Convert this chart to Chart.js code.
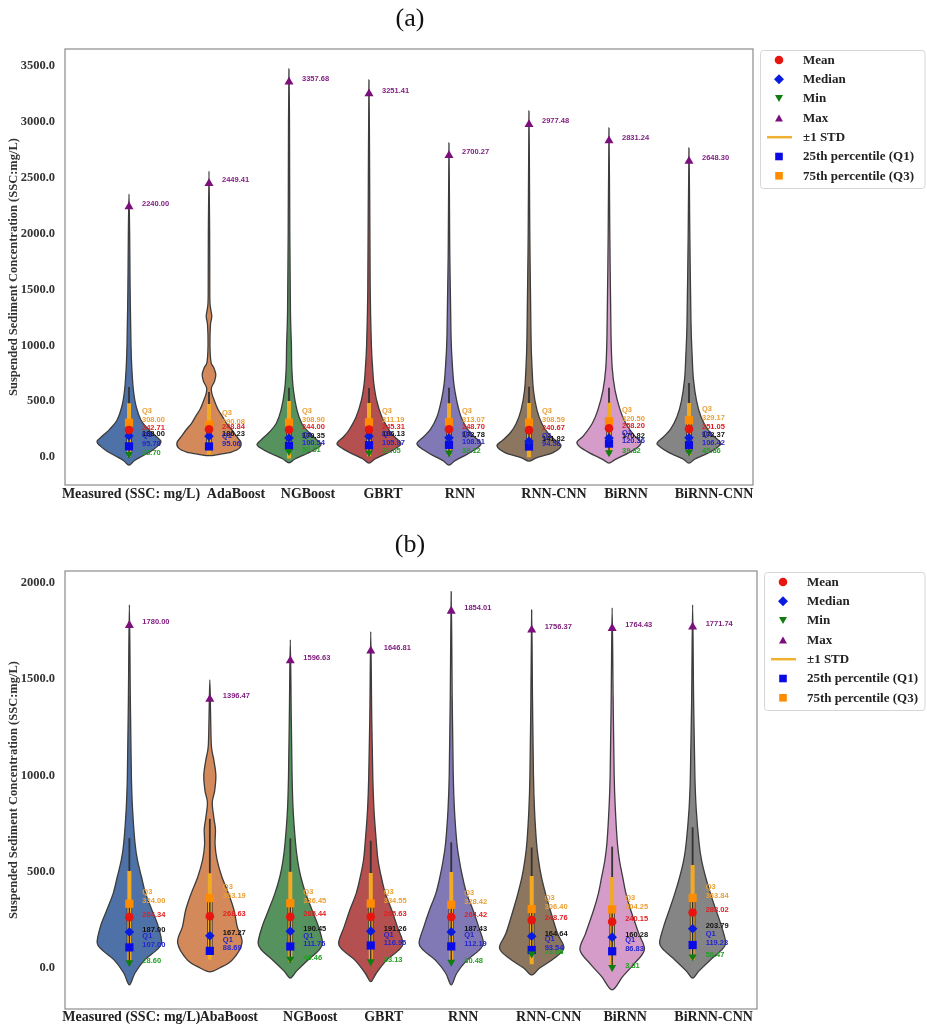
<!DOCTYPE html>
<html>
<head>
<meta charset="utf-8">
<script src="https://cdn.jsdelivr.net/npm/chart.js@4.4.0/dist/chart.umd.min.js"></script>
<style>
  html, body { margin: 0; padding: 0; background: #fff; }
  canvas { display: block; }
</style>
</head>
<body>
<canvas id="chartA" width="927" height="512"></canvas>
<canvas id="chartB" width="927" height="515"></canvas>
<script>
// ===== DATA =====
const modelsA = ['Measured (SSC: mg/L)', 'AdaBoost', 'NGBoost', 'GBRT', 'RNN', 'RNN-CNN', 'BiRNN', 'BiRNN-CNN'];
const modelsB = ['Measured (SSC: mg/L)', 'AbaBoost', 'NGBoost', 'GBRT', 'RNN', 'RNN-CNN', 'BiRNN', 'BiRNN-CNN'];
const ticksA = [0, 500, 1000, 1500, 2000, 2500, 3000, 3500];
const ticksB = [0, 500, 1000, 1500, 2000];

// panel (a)
const maxA    = [2240.00, 2449.41, 3357.68, 3251.41, 2700.27, 2977.48, 2831.24, 2648.30];
const q3A     = [308.00, 290.08, 308.90, 311.19, 313.07, 308.59, 320.50, 329.17];
const meanA   = [242.71, 248.84, 244.00, 245.31, 248.70, 240.67, 258.20, 251.05];
const medianA = [188.00, 186.23, 170.35, 186.13, 172.78, 141.82, 170.82, 172.37];
const q1A     = [95.78, 95.06, 100.54, 105.97, 108.91, 94.56, 120.36, 106.42];
const minA    = [25.70, null, 50.51, 39.05, 38.12, null, 39.82, 45.86];
const stdA    = [240, 225, 257, 238, 234, 243, 227, 232];

// panel (b)
const maxB    = [1780.00, 1396.47, 1596.63, 1646.81, 1854.01, 1756.37, 1764.43, 1771.74];
const q3B     = [334.00, 363.19, 336.45, 334.55, 328.42, 306.40, 304.25, 363.84];
const meanB   = [264.34, 268.63, 265.44, 265.63, 264.42, 248.76, 240.15, 288.02];
const medianB = [187.00, 167.27, 190.45, 191.26, 187.43, 164.64, 160.28, 203.79];
const q1B     = [107.00, 88.69, 111.76, 116.95, 112.19, 93.54, 86.83, 119.23];
const minB    = [28.60, null, 46.46, 33.13, 30.48, 73.68, 3.31, 58.47];
const stdB    = [240, 224, 234, 228, 234, 229, 233, 247];

// violin outlines: [SSC value, half width in category units], bottom tip -> top tip
const densityA = [
  [[-72,0],[-30,0.07],[10,0.17],[50,0.27],[100,0.36],[140,0.40],[190,0.33],[250,0.24],[330,0.15],[450,0.09],[600,0.055],[800,0.035],[1000,0.025],[1500,0.014],[2000,0.008],[2354,0]],
  [[12,0],[25,0.13],[45,0.28],[80,0.38],[130,0.40],[180,0.35],[240,0.29],[300,0.22],[360,0.17],[430,0.11],[500,0.07],[570,0.035],[620,0.03],[680,0.07],[740,0.085],[800,0.06],[850,0.025],[1000,0.012],[1180,0.018],[1260,0.035],[1340,0.018],[1450,0.01],[2000,0.008],[2560,0]],
  [[-51,0],[-15,0.08],[30,0.22],[70,0.33],[110,0.40],[160,0.34],[220,0.25],[300,0.16],[420,0.10],[600,0.055],[800,0.035],[1000,0.03],[1300,0.018],[2000,0.01],[3000,0.006],[3474,0]],
  [[-54,0],[-15,0.08],[40,0.24],[90,0.36],[125,0.40],[180,0.32],[242,0.25],[360,0.16],[510,0.095],[660,0.06],[800,0.045],[1000,0.03],[1500,0.015],[2500,0.008],[3375,0]],
  [[-72,0],[-30,0.08],[30,0.24],[85,0.36],[125,0.40],[180,0.32],[250,0.23],[360,0.15],[510,0.095],[660,0.06],[850,0.04],[1100,0.025],[1800,0.01],[2811,0]],
  [[-36,0],[-5,0.1],[40,0.3],[100,0.40],[150,0.33],[220,0.23],[300,0.16],[420,0.10],[600,0.055],[850,0.035],[1100,0.025],[2000,0.01],[3098,0]],
  [[-54,0],[-20,0.08],[40,0.25],[95,0.37],[134,0.40],[190,0.32],[300,0.21],[420,0.14],[600,0.075],[800,0.04],[1100,0.025],[2000,0.01],[2945,0]],
  [[-54,0],[-15,0.08],[40,0.25],[90,0.36],[125,0.40],[180,0.32],[250,0.23],[360,0.15],[500,0.095],[700,0.055],[900,0.04],[1200,0.025],[2000,0.01],[2766,0]]
];
const densityB = [
  [[-88,0],[-26,0.07],[42,0.19],[90,0.33],[130,0.40],[215,0.36],[301,0.28],[389,0.20],[474,0.15],[561,0.10],[649,0.07],[822,0.04],[994,0.025],[1400,0.012],[1886,0]],
  [[-20,0],[0,0.12],[42,0.28],[130,0.40],[215,0.34],[301,0.30],[389,0.23],[473,0.15],[561,0.09],[640,0.065],[720,0.07],[780,0.05],[860,0.03],[920,0.06],[1000,0.075],[1080,0.05],[1150,0.02],[1300,0.01],[1496,0]],
  [[-52,0],[-15,0.08],[42,0.22],[90,0.35],[130,0.40],[215,0.35],[301,0.27],[389,0.19],[474,0.13],[561,0.09],[649,0.065],[822,0.035],[1000,0.022],[1300,0.012],[1704,0]],
  [[-71,0],[-26,0.07],[42,0.2],[90,0.34],[130,0.40],[215,0.33],[301,0.26],[389,0.18],[474,0.13],[561,0.09],[649,0.07],[822,0.04],[1000,0.025],[1300,0.012],[1747,0]],
  [[-88,0],[-26,0.07],[42,0.2],[90,0.34],[130,0.40],[215,0.34],[301,0.27],[389,0.19],[474,0.14],[561,0.1],[649,0.07],[822,0.04],[1000,0.025],[1400,0.012],[1955,0]],
  [[-36,0],[0,0.1],[50,0.28],[104,0.40],[180,0.32],[301,0.23],[389,0.17],[474,0.12],[561,0.085],[649,0.06],[822,0.035],[1000,0.022],[1400,0.01],[1860,0]],
  [[-114,0],[-45,0.13],[20,0.27],[94,0.40],[180,0.33],[301,0.23],[389,0.17],[474,0.13],[561,0.09],[649,0.065],[822,0.04],[1000,0.025],[1400,0.012],[1870,0]],
  [[-52,0],[-15,0.08],[42,0.22],[90,0.35],[130,0.41],[215,0.36],[301,0.29],[389,0.22],[474,0.16],[561,0.11],[649,0.08],[822,0.045],[1000,0.028],[1400,0.012],[1886,0]]
];

// ===== STYLE =====
const violinColors = ['#4e72a8', '#d4895a', '#56925e', '#b4504f', '#8178b6', '#8c7660', '#d59bc9', '#858585'];
const SERIF = '"Liberation Serif", "Times New Roman", serif';
const SANS = '"Liberation Sans", Arial, sans-serif';
const C = {
  mean: '#e8150f', median: '#0a1be0', min: '#0f7d0f', max: '#7b0f7b',
  q1: '#0a0ae6', q3: '#ff8c00', std: '#f2aa22',
  tQ3: '#eba035', tMean: '#e02020', tMedian: '#111111', tQ1: '#2525cc', tMin: '#22a022', tMax: '#801f80'
};

const legendItems = [
  { text: 'Mean', style: 'circle', color: C.mean },
  { text: 'Median', style: 'diamond', color: C.median },
  { text: 'Min', style: 'down', color: C.min },
  { text: 'Max', style: 'up', color: C.max },
  { text: '\u00b11 STD', style: 'line', color: '#f0b030' },
  { text: '25th percentile (Q1)', style: 'square', color: C.q1 },
  { text: '75th percentile (Q3)', style: 'square', color: C.q3 }
];

function smoothClosed(ctx, pts) {
  const n = pts.length;
  ctx.moveTo(pts[0][0], pts[0][1]);
  for (let i = 0; i < n; i++) {
    const p0 = pts[(i - 1 + n) % n], p1 = pts[i], p2 = pts[(i + 1) % n], p3 = pts[(i + 2) % n];
    ctx.bezierCurveTo(
      p1[0] + (p2[0] - p0[0]) / 6, p1[1] + (p2[1] - p0[1]) / 6,
      p2[0] - (p3[0] - p1[0]) / 6, p2[1] - (p3[1] - p1[1]) / 6,
      p2[0], p2[1]);
  }
  ctx.closePath();
}

function legendMark(ctx, item, x, y) {
  ctx.fillStyle = item.color;
  ctx.strokeStyle = item.color;
  ctx.beginPath();
  if (item.style === 'circle') ctx.arc(x, y, 4.3, 0, Math.PI * 2);
  else if (item.style === 'diamond') { ctx.moveTo(x - 5, y); ctx.lineTo(x, y - 5); ctx.lineTo(x + 5, y); ctx.lineTo(x, y + 5); }
  else if (item.style === 'down') { ctx.moveTo(x - 4, y - 3.5); ctx.lineTo(x + 4, y - 3.5); ctx.lineTo(x, y + 3.5); }
  else if (item.style === 'up') { ctx.moveTo(x - 4, y + 3.5); ctx.lineTo(x + 4, y + 3.5); ctx.lineTo(x, y - 3.5); }
  else if (item.style === 'square') ctx.rect(x - 3.8, y - 3.8, 7.6, 7.6);
  if (item.style === 'line') {
    ctx.lineWidth = 2.5;
    ctx.moveTo(x - 12, y); ctx.lineTo(x + 13, y); ctx.stroke();
  } else {
    ctx.closePath(); ctx.fill();
  }
}

function buildPanel(id, p) {
  const n = p.names.length;
  const pts = arr => arr.map((v, i) => v == null ? null : { x: i, y: v }).filter(Boolean);
  const stdSeg = [], innerSeg = [];
  for (let i = 0; i < n; i++) {
    stdSeg.push({ x: i, y: p.mean[i] - p.std[i] }, { x: i, y: p.mean[i] + p.std[i] }, { x: i, y: null });
    innerSeg.push({ x: i, y: p.min[i] != null ? p.min[i] : p.q1[i] }, { x: i, y: p.q3[i] }, { x: i, y: null });
  }

  const violinPlugin = {
    id: 'violins' + id,
    beforeDatasetsDraw(chart) {
      const { ctx, chartArea: a, scales: { x, y } } = chart;
      ctx.save();
      ctx.beginPath(); ctx.rect(a.left, a.top, a.right - a.left, a.bottom - a.top); ctx.clip();
      p.density.forEach((knots, i) => {
        const right = knots.map(([v, w]) => [x.getPixelForValue(i + w), y.getPixelForValue(v)]);
        const left = knots.slice().reverse().map(([v, w]) => [x.getPixelForValue(i - w), y.getPixelForValue(v)]);
        const outline = right.concat(left.slice(1, -1));
        ctx.beginPath();
        smoothClosed(ctx, outline);
        ctx.fillStyle = violinColors[i];
        ctx.fill();
        ctx.lineWidth = 1.3;
        ctx.strokeStyle = '#3c3c3c';
        ctx.stroke();
        // inner box (whisker + IQR)
        const iqr = p.q3[i] - p.q1[i];
        const lo = p.min[i] != null ? Math.max(p.min[i], p.q1[i] - 1.5 * iqr) : p.q1[i];
        const hi = Math.min(p.max[i], p.q3[i] + 1.5 * iqr);
        const xc = x.getPixelForValue(i);
        ctx.strokeStyle = '#333';
        ctx.lineWidth = 1.8;
        ctx.beginPath(); ctx.moveTo(xc, y.getPixelForValue(lo)); ctx.lineTo(xc, y.getPixelForValue(hi)); ctx.stroke();
        ctx.lineWidth = 5.5;
        ctx.beginPath(); ctx.moveTo(xc, y.getPixelForValue(p.q1[i])); ctx.lineTo(xc, y.getPixelForValue(p.q3[i])); ctx.stroke();
      });
      ctx.restore();
    },
    afterDatasetsDraw(chart) {
      const { ctx, scales: { x, y } } = chart;
      ctx.save();
      ctx.font = 'bold 7.5px ' + SANS;
      ctx.textAlign = 'left';
      ctx.textBaseline = 'middle';
      const put = (txt, color, xp, yp) => { ctx.fillStyle = color; ctx.fillText(txt, xp, yp); };
      for (let i = 0; i < n; i++) {
        const xp = x.getPixelForValue(i) + 13;
        if (p.min[i] != null) put(p.min[i].toFixed(2), C.tMin, xp, y.getPixelForValue(p.min[i]) - 1.5);
        put(p.max[i].toFixed(2), C.tMax, xp, y.getPixelForValue(p.max[i]) - 3);
        put('Q3', C.tQ3, xp, y.getPixelForValue(p.q3[i]) - 11.5);
        put(p.q3[i].toFixed(2), C.tQ3, xp, y.getPixelForValue(p.q3[i]) - 2.5);
        put(p.mean[i].toFixed(2), C.tMean, xp, y.getPixelForValue(p.mean[i]) - 2.5);
        put(p.median[i].toFixed(2), C.tMedian, xp, y.getPixelForValue(p.median[i]) - 2.5);
        put('Q1', C.tQ1, xp, y.getPixelForValue(p.q1[i]) - 11);
        put(p.q1[i].toFixed(2), C.tQ1, xp, y.getPixelForValue(p.q1[i]) - 2.5);
      }
      ctx.restore();
    },
    afterDraw(chart) {
      const { ctx, chartArea: a, scales: { x } } = chart;
      ctx.save();
      // frame
      ctx.strokeStyle = '#8c8c8c';
      ctx.lineWidth = 1.2;
      ctx.strokeRect(a.left, a.top, a.right - a.left, a.bottom - a.top);
      // panel title
      ctx.fillStyle = '#111';
      ctx.font = '26px ' + SERIF;
      ctx.textAlign = 'center';
      ctx.textBaseline = 'middle';
      ctx.fillText(p.title, 410, p.titleY);
      // category labels
      ctx.font = 'bold 14px ' + SERIF;
      ctx.fillStyle = '#222';
      p.names.forEach((name, i) => ctx.fillText(name, x.getPixelForValue(i) + p.labelShift[i], p.labelY));
      // legend
      const lx = a.right + 7, ly = a.top + 1;
      const lw = Math.min(165, chart.width - lx - 2.5);
      ctx.strokeStyle = '#d6d6d6';
      ctx.lineWidth = 1;
      ctx.beginPath();
      ctx.roundRect(lx + 0.5, ly + 0.5, lw, 138, 3);
      ctx.stroke();
      ctx.font = 'bold 13px ' + SERIF;
      ctx.textAlign = 'left';
      legendItems.forEach((item, k) => {
        const yy = ly + 10 + k * 19.3;
        legendMark(ctx, item, lx + 19, yy);
        ctx.fillStyle = '#222';
        ctx.fillText(item.text, lx + 43, yy + 0.5);
      });
      ctx.restore();
    }
  };

  return new Chart(document.getElementById(id), {
    type: 'scatter',
    data: {
      datasets: [
        { label: 'Mean', data: pts(p.mean), pointStyle: 'circle', pointRadius: 4.3, backgroundColor: C.mean, borderColor: C.mean, borderWidth: 0, order: 0 },
        { label: 'Median', data: pts(p.median), pointStyle: 'rectRot', pointRadius: 4.8, backgroundColor: C.median, borderColor: C.median, borderWidth: 0, order: 0 },
        { label: 'Min', data: pts(p.min), pointStyle: 'triangle', pointRotation: 180, pointRadius: 4.6, backgroundColor: C.min, borderColor: C.min, borderWidth: 0, order: 0 },
        { label: 'Max', data: pts(p.max), pointStyle: 'triangle', pointRadius: 5.2, backgroundColor: C.max, borderColor: C.max, borderWidth: 0, order: 0 },
        { label: 'Q1', data: pts(p.q1), pointStyle: 'rect', pointRadius: 5.8, backgroundColor: C.q1, borderColor: C.q1, borderWidth: 0, order: 0 },
        { label: 'Q3', data: pts(p.q3), pointStyle: 'rect', pointRadius: 5.8, backgroundColor: C.q3, borderColor: C.q3, borderWidth: 0, order: 0 },
        { label: 'inner', data: innerSeg, showLine: true, spanGaps: false, pointRadius: 0, borderColor: '#2a2a2a', borderWidth: 1.3, order: 1 },
        { label: '\u00b11 STD', data: stdSeg, showLine: true, spanGaps: false, pointRadius: 0, borderColor: C.std, borderWidth: 4, borderCapStyle: 'butt', order: 2 }
      ]
    },
    options: {
      responsive: false,
      animation: false,
      events: [],
      layout: { padding: { left: 0, right: p.padRight, top: p.padTop, bottom: p.padBottom } },
      plugins: { legend: { display: false }, tooltip: { enabled: false } },
      scales: {
        x: { type: 'linear', min: -0.8, max: 7.8, display: false },
        y: {
          min: p.yMin, max: p.yMax,
          grid: { display: false, drawTicks: false },
          border: { display: false },
          afterBuildTicks: s => { s.ticks = p.ticks.map(v => ({ value: v })); },
          ticks: {
            padding: 10, color: '#333',
            font: { family: SERIF, size: 12.5, weight: 'bold' },
            callback: v => v.toFixed(1)
          },
          title: {
            display: true, text: 'Suspended Sediment Concentration (SSC:mg/L)', color: '#333',
            font: { family: SERIF, size: 12.5, weight: 'bold' }, padding: { top: 6, bottom: 0 }
          },
          afterFit: s => { s.width = 65; }
        }
      }
    },
    plugins: [violinPlugin]
  });
}

buildPanel('chartA', {
  names: modelsA, max: maxA, q3: q3A, mean: meanA, median: medianA, q1: q1A, min: minA, std: stdA,
  density: densityA, ticks: ticksA, yMin: -250, yMax: 3652, title: '(a)', titleY: 19,
  labelShift: [2, 27, 19, 14, 11, 25, 17, 25], labelY: 494,
  padTop: 49, padBottom: 27, padRight: 174
});
buildPanel('chartB', {
  names: modelsB, max: maxB, q3: q3B, mean: meanB, median: medianB, q1: q1B, min: minB, std: stdB,
  density: densityB, ticks: ticksB, yMin: -213, yMax: 2062, title: '(b)', titleY: 33,
  labelShift: [2, 19, 20, 13, 12, 17, 13, 21], labelY: 505,
  padTop: 59, padBottom: 18, padRight: 170
});
</script>
</body>
</html>
